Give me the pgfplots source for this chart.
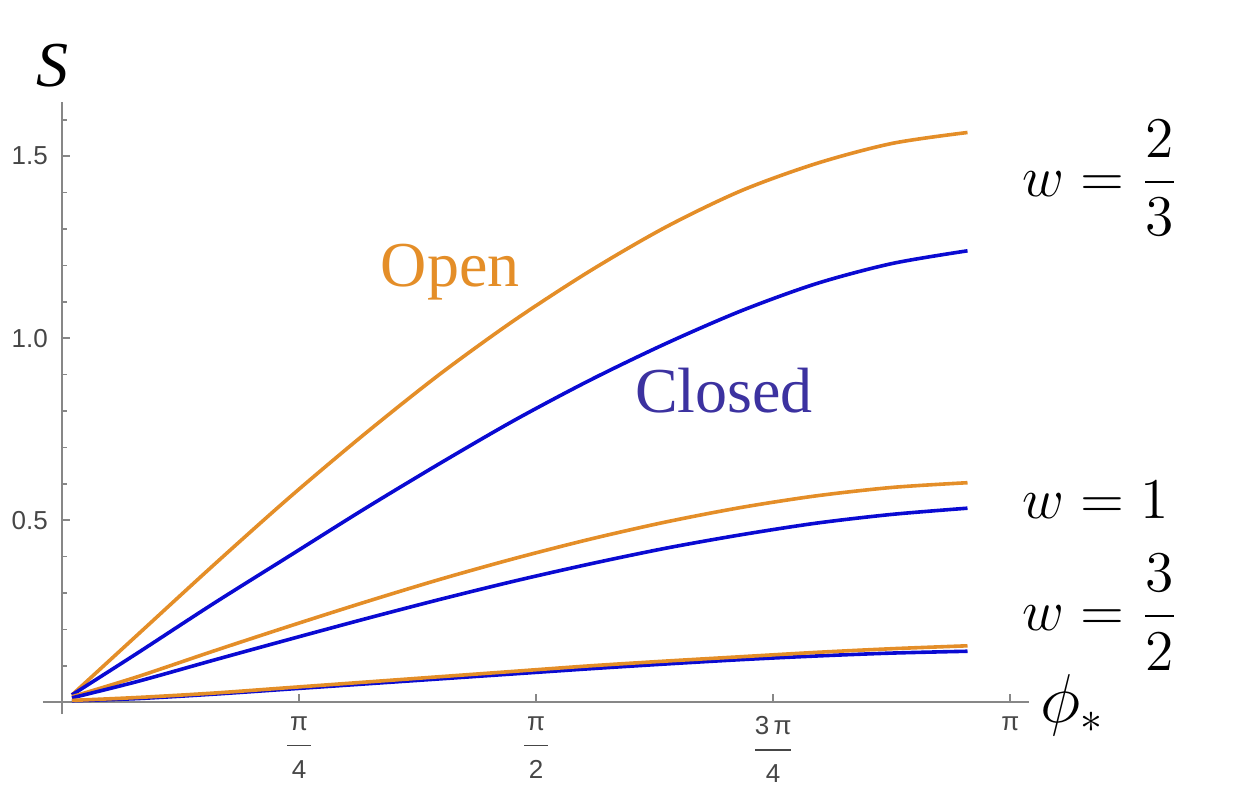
\documentclass[border=0pt]{standalone}
\usepackage{pgfplots}
\pgfplotsset{compat=1.18}
\usepackage{fontspec}
\newfontfamily\tickfont{Liberation Sans}
\newfontfamily\timesfont{Liberation Serif}
\definecolor{openOrange}{RGB}{228,142,40}
\definecolor{closedBlue}{RGB}{10,10,210}
\definecolor{closedText}{RGB}{60,50,160}
\definecolor{axisGray}{RGB}{135,135,135}
\definecolor{tickText}{RGB}{70,70,70}

\begin{document}
\begin{tikzpicture}
\begin{axis}[
    x=75.45pt, y=91pt,
    xmin=-0.063, xmax=3.204,
    ymin=-0.033, ymax=1.65,
    axis lines=middle,
    axis line style={-, axisGray, line width=0.5pt},
    clip=false,
    tick align=inside,
    major tick length=2pt,
    minor tick length=1.3pt,
    tick style={axisGray, line width=0.4pt},
    ytick={0.5,1,1.5},
    minor ytick={0.1,0.2,0.3,0.4,0.6,0.7,0.8,0.9,1.1,1.2,1.3,1.4,1.6},
    yticklabel style={/pgf/number format/fixed, /pgf/number format/fixed zerofill,
        /pgf/number format/precision=1, /pgf/number format/assume math mode=true,
        font=\fontsize{6.5}{7}\tickfont, text=tickText},
    xtick={0.7854,1.5708,2.3562,3.1416},
    xticklabels={{π\\[-3pt]\rule[2pt]{6pt}{0.4pt}\\[-3pt]4},
                 {π\\[-3pt]\rule[2pt]{6pt}{0.4pt}\\[-3pt]2},
                 {3\,π\\[-3pt]\rule[2pt]{9pt}{0.4pt}\\[-3pt]4},
                 {π}},
    xticklabel style={align=center, font=\fontsize{6.5}{9}\tickfont, text=tickText},
]
% w = 2/3
\addplot[openOrange, line width=0.9pt, smooth] coordinates {
  (0.033,0.02)(0.25,0.185)(0.5,0.375)(0.75,0.56)(1.0,0.735)(1.25,0.90)(1.5,1.05)
  (1.75,1.185)(2.0,1.305)(2.25,1.405)(2.5,1.48)(2.75,1.535)(3.0,1.565)};
\addplot[closedBlue, line width=0.9pt, smooth] coordinates {
  (0.033,0.02)(0.25,0.135)(0.5,0.27)(0.75,0.40)(1.0,0.53)(1.25,0.655)(1.5,0.775)
  (1.75,0.885)(2.0,0.985)(2.25,1.075)(2.5,1.15)(2.75,1.205)(3.0,1.24)};
% w = 1
\addplot[openOrange, line width=0.9pt, smooth] coordinates {
  (0.033,0.015)(0.25,0.07)(0.5,0.14)(0.75,0.208)(1.0,0.274)(1.25,0.337)(1.5,0.395)
  (1.75,0.448)(2.0,0.495)(2.25,0.535)(2.5,0.567)(2.75,0.59)(3.0,0.603)};
\addplot[closedBlue, line width=0.9pt, smooth] coordinates {
  (0.033,0.012)(0.25,0.057)(0.5,0.115)(0.75,0.172)(1.0,0.228)(1.25,0.282)(1.5,0.333)
  (1.75,0.38)(2.0,0.423)(2.25,0.46)(2.5,0.492)(2.75,0.516)(3.0,0.533)};
% w = 3/2
\addplot[closedBlue, line width=0.9pt, smooth] coordinates {
  (0.033,0.004)(0.25,0.01)(0.5,0.022)(0.75,0.036)(1.0,0.05)(1.25,0.064)(1.5,0.078)
  (1.75,0.092)(2.0,0.105)(2.25,0.117)(2.5,0.127)(2.75,0.135)(3.0,0.14)};
\addplot[openOrange, line width=0.9pt, smooth] coordinates {
  (0.033,0.005)(0.25,0.013)(0.5,0.025)(0.75,0.04)(1.0,0.055)(1.25,0.07)(1.5,0.085)
  (1.75,0.10)(2.0,0.113)(2.25,0.125)(2.5,0.137)(2.75,0.147)(3.0,0.155)};

\node[font=\fontsize{16}{18}\timesfont\itshape] at (axis cs:-0.033,1.75) {S};
\node[font=\fontsize{16}{18}\timesfont, text=openOrange] at (axis cs:1.286,1.181) {Open};
\node[font=\fontsize{16}{18}\timesfont, text=closedText] at (axis cs:2.193,0.857) {Closed};
\node[anchor=west, font=\fontsize{15}{18}\selectfont, inner sep=0pt] at (axis cs:3.181,1.44) {$\displaystyle w = \frac{2}{3}$};
\node[anchor=west, font=\fontsize{15}{18}\selectfont, inner sep=0pt] at (axis cs:3.181,0.555) {$w = 1$};
\node[anchor=west, font=\fontsize{15}{18}\selectfont, inner sep=0pt] at (axis cs:3.181,0.247) {$\displaystyle w = \frac{3}{2}$};
\node[anchor=west, font=\fontsize{16}{18}\selectfont, inner sep=0pt] at (axis cs:3.24,-0.008) {$\phi_*$};

\coordinate (bl) at (axis cs:-0.2054,-0.2527);
\coordinate (tr) at (axis cs:3.926,1.929);
\end{axis}
\pgfresetboundingbox
\path[use as bounding box] (bl) rectangle (tr);
\end{tikzpicture}
\end{document}
